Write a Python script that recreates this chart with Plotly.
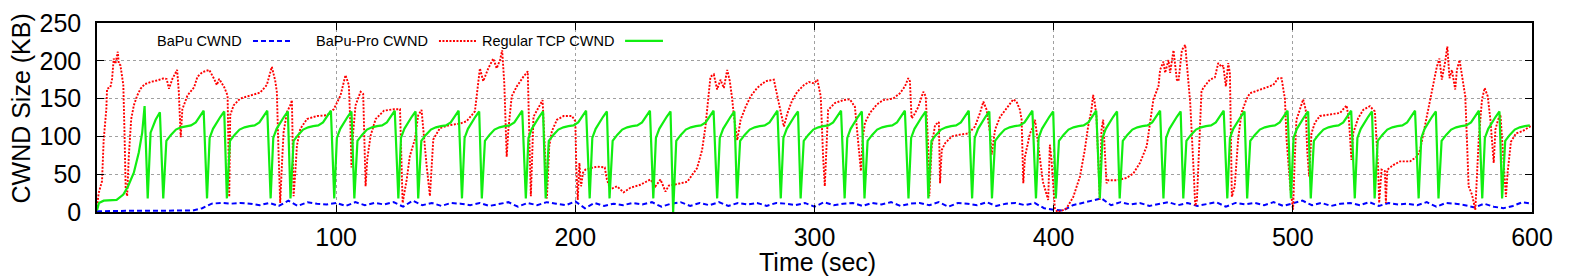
import plotly.graph_objects as go

# ---------------- data ----------------
# BaPu CWND (blue, dashed) sampled every 4 s starting at 0 s
blue_step = 4
blue_vals = [1, 1.5, 1.5, 1.5, 1.5, 1.5, 1.5, 1.5, 1.5, 1.5, 2,
             5, 11, 12, 11, 12, 11, 9, 12, 8, 15, 8, 13, 11, 10, 12, 8, 13, 9, 12, 10,
             13, 7, 15, 9, 12, 8, 12, 11, 9, 12, 8, 11, 13, 7, 12, 9, 13, 11, 9, 14,
             5, 12, 8, 11, 9, 12, 10, 13, 7, 11, 13, 8, 12, 9, 13, 8, 12, 10, 12, 8,
             12, 11, 9, 12, 7, 13, 9, 11, 12, 8, 12, 10, 13, 8, 11, 12, 9, 13, 7, 12,
             11, 9, 13, 8, 11, 12, 9, 12, 5, 3, 2, 9, 12, 15, 18, 9, 13, 10, 12, 8,
             11, 13, 9, 12, 8, 11, 13, 7, 12, 10, 12, 9, 13, 8, 12, 15, 9, 12, 8, 11,
             12, 9, 13, 8, 12, 10, 11, 9, 13, 7, 12, 11, 9, 6, 11, 7, 5, 8, 13, 11]

# BaPu-Pro CWND (red, dotted)
red_t = [0, 0.7, 2.1, 2.8, 3.9, 4.2, 5.6, 6.3, 7.0, 7.7, 8.7, 9.1, 9.8, 11.0, 11.5, 12.0, 12.6,
         13.3, 14.3, 15.4, 16.8, 18.2, 19.9, 22.4, 25.2, 28.0, 29.1, 30.1, 31.5, 33.5, 34.2, 35.0,
         35.7, 37.8, 40.6, 42.0, 44.1, 46.9, 49.0, 50.1, 51.1, 53.2, 54.6, 55.0, 55.3, 55.7, 57.1,
         59.8, 64.0, 68.2, 71.0, 73.1, 74.5, 75.2, 75.9, 76.6, 77.3, 78.0, 79.4, 80.8, 81.5, 82.2,
         82.9, 83.6, 85.0, 87.8, 92.0, 96.2, 99.0, 100.4, 101.8, 103.9, 105.3, 106.0, 106.4, 107.1,
         108.1, 110.2, 111.3, 111.9, 112.3, 113.0, 114.4, 116.5, 120.0, 124.2, 126.7, 127.8, 129.5,
         130.8, 132.9, 134.3, 135.7, 137.8, 139.2, 140.6, 143.4, 147.6, 151.8, 154.5, 158.0, 160.1,
         161.5, 163.6, 165.7, 167.1, 168.5, 169.4, 170.3, 171.3, 172.0, 173.4, 175.5, 178.3, 180.1,
         180.8, 181.4, 182.5, 184.6, 186.3, 187.1, 188.1, 189.1, 190.2, 192.3, 195.1, 198.6, 200.0,
         200.4, 201.0, 201.7, 202.4, 203.2, 204.2, 206.3, 209.1, 212.3, 213.2, 214.6, 217.4, 220.2,
         223.0, 227.2, 231.4, 233.5, 235.6, 237.7, 239.1, 242.6, 246.8, 250.9, 253.0, 254.4, 255.8,
         256.5, 257.9, 259.3, 260.7, 262.1, 263.5, 264.6, 265.6, 266.3, 267.7, 269.1, 271.2, 273.3,
         276.0, 279.5, 283.0, 284.4, 285.8, 287.2, 288.6, 290.7, 292.8, 295.6, 297.7, 299.8, 301.2,
         302.6, 303.6, 304.3, 305.7, 308.5, 312.0, 314.8, 316.9, 318.3, 319.4, 320.1, 321.1, 323.2,
         326.0, 328.7, 332.9, 335.7, 337.8, 339.2, 339.9, 340.6, 341.4, 343.4, 345.5, 346.5, 347.6,
         348.0, 349.0, 350.4, 352.0, 352.5, 353.2, 354.6, 357.4, 360.2, 364.4, 367.1, 369.2, 370.6,
         372.0, 373.4, 374.1, 375.5, 377.6, 380.3, 383.1, 384.5, 385.9, 386.6, 387.3, 388.0, 390.1,
         391.5, 392.2, 393.5, 395.5, 397.7, 398.4, 399.1, 400.5, 401.5, 403.0, 405.4, 408.2, 411.0,
         413.0, 414.4, 415.8, 416.5, 417.2, 417.9, 418.6, 419.3, 420.0, 420.7, 422.1, 422.8, 426.3,
         430.5, 433.3, 436.1, 438.9, 441.7, 443.8, 444.5, 445.9, 446.6, 448.0, 448.7, 450.1, 451.5,
         452.2, 453.6, 455.0, 455.7, 457.1, 458.5, 459.2, 459.9, 460.8, 461.8, 462.5, 465.3, 467.4,
         468.8, 470.2, 470.9, 472.0, 473.0, 473.7, 474.5, 475.7, 477.1, 478.5, 480.6, 482.0, 484.8,
         488.3, 491.8, 493.9, 495.3, 496.7, 497.4, 499.0, 500.1, 500.8, 501.5, 502.9, 504.3, 505.4,
         506.0, 506.8, 507.8, 509.2, 511.3, 515.5, 519.7, 522.5, 523.5, 524.5, 525.2, 527.3, 529.4,
         532.2, 534.3, 535.7, 536.1, 537.1, 538.5, 538.9, 539.5, 542.0, 544.8, 549.0, 551.8, 553.2,
         554.6, 557.4, 558.8, 560.2, 561.3, 562.3, 563.7, 564.6, 565.5, 566.5, 567.9, 568.6, 569.7,
         570.7, 572.1, 572.8, 573.5, 574.9, 576.3, 577.7, 579.1, 580.2, 581.5, 582.6, 584.0, 584.7,
         585.8, 586.8, 588.4, 589.1, 589.8, 591.2, 593.3, 596.1, 599.6]
red_v = [7, 25, 41, 96, 136, 163, 165, 176, 203, 196, 212, 196, 194, 168, 105, 30, 21,
         74, 123, 141, 154, 163, 169, 172, 174, 177, 176, 163, 176, 188, 159, 99,
         136, 154, 165, 179, 185, 188, 176, 168, 176, 165, 154, 70, 20, 128, 141,
         150, 154, 158, 168, 192, 174, 159, 79, 12, 61, 105, 132, 141, 148, 21,
         52, 88, 110, 123, 127, 128, 136, 145, 154, 181, 168, 110, 59, 105,
         141, 159, 156, 83, 34, 70, 101, 123, 134, 136, 136, 12, 43,
         74, 96, 128, 135, 62, 21, 96, 111, 115, 117, 120, 133, 190,
         173, 190, 203, 190, 201, 214, 170, 73, 109, 153, 166, 179, 186,
         95, 21, 126, 139, 148, 95, 18, 87, 107, 122, 127, 127, 120,
         60, 16, 65, 34, 52, 56, 58, 60, 59, 43, 30, 34, 26,
         32, 36, 43, 34, 43, 27, 35, 37, 40, 58, 82, 113, 153,
         179, 182, 162, 175, 164, 188, 173, 149, 127, 95, 122, 139, 153,
         164, 173, 175, 153, 135, 113, 130, 148, 159, 168, 172, 170, 175,
         153, 73, 34, 135, 144, 148, 149, 139, 87, 54, 96, 118, 131,
         142, 148, 150, 157, 166, 177, 173, 124, 127, 139, 159, 153, 82,
         21, 87, 115, 119, 38, 82, 91, 100, 102, 104, 113, 131, 146,
         135, 104, 76, 109, 126, 137, 149, 146, 135, 122, 38, 73, 104,
         113, 122, 90, 40, 16, 89, 69, 5, 0, 1, 5, 20, 47,
         82, 113, 135, 155, 144, 126, 65, 16, 109, 122, 38, 42, 42,
         45, 51, 65, 87, 149, 166, 188, 199, 184, 201, 184, 214, 175,
         173, 214, 221, 197, 144, 56, 8, 16, 80, 159, 164, 175, 178,
         197, 192, 194, 166, 197, 183, 20, 34, 95, 131, 149, 157, 160,
         164, 168, 177, 177, 149, 95, 30, 3, 70, 122, 135, 149, 135,
         82, 47, 104, 118, 127, 129, 131, 141, 120, 69, 104, 124, 135,
         140, 133, 56, 12, 56, 54, 12, 56, 62, 67, 67, 73, 82,
         104, 149, 170, 192, 203, 175, 199, 219, 177, 188, 162, 188, 201,
         179, 153, 95, 34, 23, 3, 95, 149, 164, 153, 122, 65, 109,
         122, 129, 56, 20, 52, 93, 104, 107, 114]

# Regular TCP CWND (green, solid): slow start, then loss events
green_start_t = [0, 0.8, 2.8, 5.0, 8.2, 11.0, 13.0, 15.4, 17.5, 18.9, 19.9, 21.2, 22.4, 24.5, 26.3]
green_start_v = [2, 12, 15, 15.5, 16, 23, 34, 52, 79, 105, 140, 18, 105, 122, 132]
# times of the window drops (bottom of each V) and the value reached
green_drop_t = [27.7, 46.0, 54.3, 72.6, 80.9, 99.2, 107.6, 126.0, 134.3, 152.6, 160.9,
                179.3, 187.6, 206.0, 214.3, 232.6, 240.9, 259.3, 267.6, 285.9, 294.2,
                312.6, 320.9, 339.3, 347.6, 365.9, 374.2, 392.6, 400.9, 419.3, 427.6,
                445.9, 454.2, 472.6, 480.9, 499.2, 507.5, 525.9, 534.2, 552.6, 560.9,
                579.2, 587.5]
green_drop_v = [18, 18, 18, 18, 18, 18, 18, 18, 18, 18, 18,
                18, 18, 18, 18, 18, 0, 18, 18, 18, 18,
                18, 18, 18, 18, 18, 18, 18, 18, 18, 18,
                18, 18, 18, 18, 18, 18, 18, 18, 18, 18,
                18, 18]
# shape of a cycle after a drop (seconds after drop, window KB), read from one cycle
long_cycle_dt = [1.3, 3.2, 5.3, 7.4, 9.5, 11.6, 13.6, 15.7, 16.9]
long_cycle_v = [94, 102, 109, 112, 113.5, 114.5, 118.5, 127.5, 134]
short_cycle_dt = [1.1, 2.5, 3.9, 5.6, 7.2]
short_cycle_v = [98, 110, 118, 126, 133]

x_ticks = [100, 200, 300, 400, 500, 600]
y_ticks = [0, 50, 100, 150, 200, 250]
legend_names = ["BaPu CWND", "BaPu-Pro CWND", "Regular TCP CWND"]
x_title = "Time (sec)"
y_title = "CWND Size (KB)"

# ---------------- build series ----------------
blue_t = [i * blue_step for i in range(len(blue_vals))]

green_t = list(green_start_t)
green_v = list(green_start_v)
for i, d in enumerate(green_drop_t):
    green_t.append(d)
    green_v.append(green_drop_v[i])
    nxt = green_drop_t[i + 1] if i + 1 < len(green_drop_t) else 600
    if i % 2 == 0:
        dts, vs = long_cycle_dt, long_cycle_v
    else:
        dts, vs = short_cycle_dt, short_cycle_v
    for dt, v in zip(dts, vs):
        if d + dt < nxt:
            green_t.append(d + dt)
            green_v.append(v)

BLUE = "#0000ff"
RED = "#ff0000"
GREEN = "#11ee11"
FONT = "Liberation Sans, Arial, sans-serif"

blue_line = dict(color=BLUE, width=2, dash="5px,3px")
red_line = dict(color=RED, width=1.9, dash="2px,1.5px")
green_line = dict(color=GREEN, width=2.2)

fig = go.Figure()
fig.add_trace(go.Scatter(x=blue_t, y=blue_vals, mode="lines", name=legend_names[0], line=blue_line))
fig.add_trace(go.Scatter(x=red_t, y=red_v, mode="lines", name=legend_names[1], line=red_line))
fig.add_trace(go.Scatter(x=green_t, y=green_v, mode="lines", name=legend_names[2], line=green_line))

# gnuplot-style key: text right-aligned, sample line to its right
key_text_right = [0.1024, 0.232, 0.3617]
key_sample = [(0.1087, 0.1352), (0.2383, 0.2648), (0.368, 0.3944)]
key_styles = [blue_line, red_line, green_line]
key_y = 0.905
for name, xr, (x0, x1), st in zip(legend_names, key_text_right, key_sample, key_styles):
    fig.add_annotation(x=xr, y=key_y, xref="paper", yref="paper", text=name,
                       showarrow=False, xanchor="right", yanchor="middle",
                       font=dict(family=FONT, size=14.5, color="black"))
    fig.add_shape(type="line", xref="paper", yref="paper", x0=x0, x1=x1,
                  y0=key_y, y1=key_y, line=st)

# axis titles
fig.add_annotation(x=0.502, y=-0.265, xref="paper", yref="paper", text=x_title,
                   showarrow=False, xanchor="center", yanchor="middle",
                   font=dict(family=FONT, size=25, color="black"))
fig.add_annotation(x=-0.0533, y=0.545, xref="paper", yref="paper", text=y_title,
                   showarrow=False, xanchor="center", yanchor="middle", textangle=-90,
                   font=dict(family=FONT, size=25, color="black"))

axis_common = dict(showline=True, linecolor="black", linewidth=1.5, mirror="ticks",
                   ticks="inside", ticklen=7, tickwidth=1, tickcolor="black",
                   showgrid=True, gridcolor="#a0a0a0", griddash="dot", gridwidth=1,
                   zeroline=False, automargin=False,
                   tickfont=dict(family=FONT, size=25, color="black"))

fig.update_xaxes(range=[0, 600], tickvals=x_ticks, ticktext=[str(v) for v in x_ticks],
                 ticklabelstandoff=2, **axis_common)
fig.update_yaxes(range=[0, 250], tickvals=y_ticks, ticktext=[str(v) for v in y_ticks],
                 ticklabelstandoff=9, **axis_common)

# the page adds an 8 px body margin, so the figure is 8 px smaller and margins shifted
fig.update_layout(width=1570, height=268, margin=dict(l=89, r=46, t=15, b=64),
                  paper_bgcolor="white", plot_bgcolor="white", showlegend=False,
                  font=dict(family=FONT, color="black"))

fig.write_html("out.html")
